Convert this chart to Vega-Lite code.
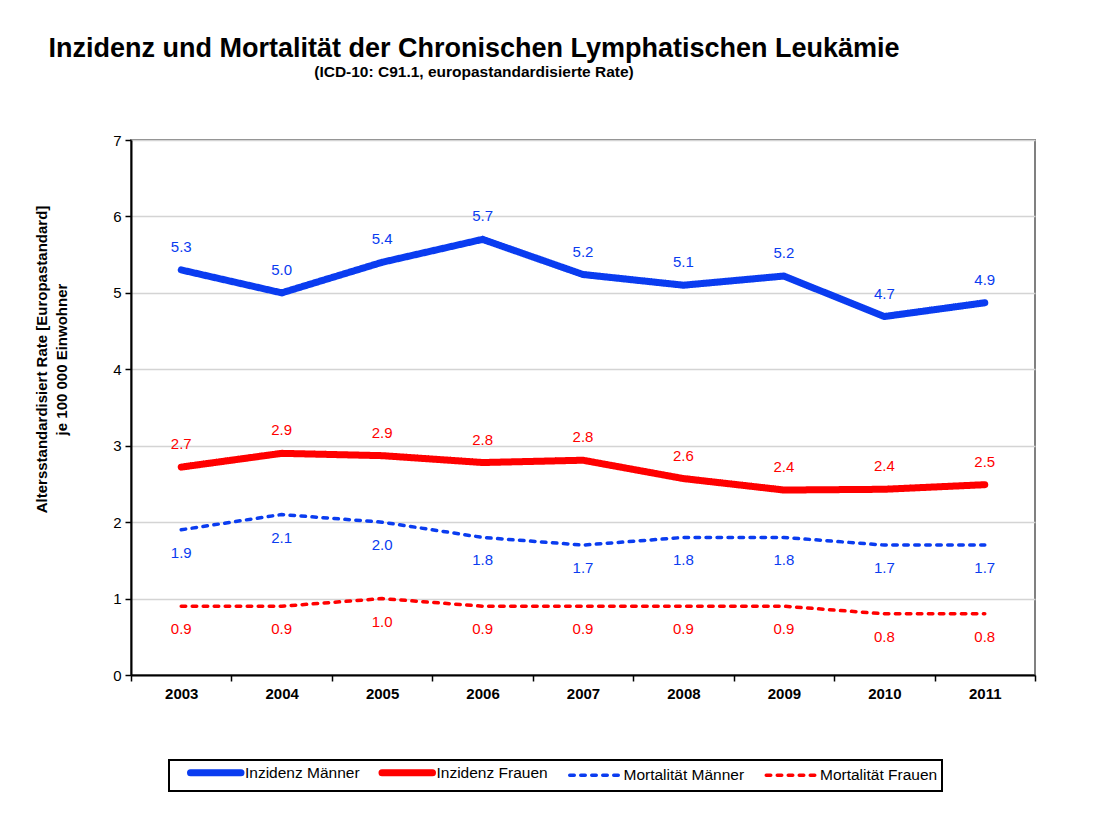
{
  "$schema": "https://vega.github.io/schema/vega-lite/v6.json",
  "autosize": "none",
  "width": 904,
  "height": 535,
  "padding": {"left": 131, "top": 140, "right": 64, "bottom": 144},
  "background": "white",
  "title": {
    "text": "Inzidenz und Mortalität der Chronischen Lymphatischen Leukämie",
    "subtitle": "(ICD-10: C91.1, europastandardisierte Rate)",
    "anchor": "middle",
    "dx": -109,
    "offset": 52,
    "font": "Liberation Sans",
    "fontSize": 27,
    "fontWeight": "bold",
    "color": "black",
    "subtitleFont": "Liberation Sans",
    "subtitleFontSize": 15.5,
    "subtitleFontWeight": "bold",
    "subtitleColor": "black",
    "subtitlePadding": 2
  },
  "config": {
    "font": "Liberation Sans",
    "view": {"stroke": "#808080", "strokeWidth": 2}
  },
  "data": {
    "values": [
      {"series": "Inzidenz Männer", "year": "2003", "value": 5.3},
      {"series": "Inzidenz Männer", "year": "2004", "value": 5.0},
      {"series": "Inzidenz Männer", "year": "2005", "value": 5.4},
      {"series": "Inzidenz Männer", "year": "2006", "value": 5.7},
      {"series": "Inzidenz Männer", "year": "2007", "value": 5.24},
      {"series": "Inzidenz Männer", "year": "2008", "value": 5.1},
      {"series": "Inzidenz Männer", "year": "2009", "value": 5.22},
      {"series": "Inzidenz Männer", "year": "2010", "value": 4.69},
      {"series": "Inzidenz Männer", "year": "2011", "value": 4.87},
      {"series": "Inzidenz Frauen", "year": "2003", "value": 2.72},
      {"series": "Inzidenz Frauen", "year": "2004", "value": 2.9},
      {"series": "Inzidenz Frauen", "year": "2005", "value": 2.87},
      {"series": "Inzidenz Frauen", "year": "2006", "value": 2.78},
      {"series": "Inzidenz Frauen", "year": "2007", "value": 2.81},
      {"series": "Inzidenz Frauen", "year": "2008", "value": 2.57},
      {"series": "Inzidenz Frauen", "year": "2009", "value": 2.42},
      {"series": "Inzidenz Frauen", "year": "2010", "value": 2.43},
      {"series": "Inzidenz Frauen", "year": "2011", "value": 2.49},
      {"series": "Mortalität Männer", "year": "2003", "value": 1.9},
      {"series": "Mortalität Männer", "year": "2004", "value": 2.1},
      {"series": "Mortalität Männer", "year": "2005", "value": 2.0},
      {"series": "Mortalität Männer", "year": "2006", "value": 1.8},
      {"series": "Mortalität Männer", "year": "2007", "value": 1.7},
      {"series": "Mortalität Männer", "year": "2008", "value": 1.8},
      {"series": "Mortalität Männer", "year": "2009", "value": 1.8},
      {"series": "Mortalität Männer", "year": "2010", "value": 1.7},
      {"series": "Mortalität Männer", "year": "2011", "value": 1.7},
      {"series": "Mortalität Frauen", "year": "2003", "value": 0.9},
      {"series": "Mortalität Frauen", "year": "2004", "value": 0.9},
      {"series": "Mortalität Frauen", "year": "2005", "value": 1.0},
      {"series": "Mortalität Frauen", "year": "2006", "value": 0.9},
      {"series": "Mortalität Frauen", "year": "2007", "value": 0.9},
      {"series": "Mortalität Frauen", "year": "2008", "value": 0.9},
      {"series": "Mortalität Frauen", "year": "2009", "value": 0.9},
      {"series": "Mortalität Frauen", "year": "2010", "value": 0.8},
      {"series": "Mortalität Frauen", "year": "2011", "value": 0.8}
    ]
  },
  "encoding": {
    "x": {
      "field": "year",
      "type": "ordinal",
      "scale": {"type": "band", "paddingInner": 0, "paddingOuter": 0},
      "axis": {
        "title": null,
        "labelAngle": 0,
        "labelFontSize": 15,
        "labelFontWeight": "bold",
        "labelColor": "black",
        "labelPadding": 5,
        "domainColor": "black",
        "domainWidth": 2,
        "tickColor": "black",
        "tickWidth": 1.5,
        "tickSize": 6,
        "tickBand": "extent",
        "grid": false
      }
    },
    "y": {
      "field": "value",
      "type": "quantitative",
      "scale": {"domain": [0, 7], "nice": false},
      "axis": {
        "title": ["Altersstandardisiert Rate [Europastandard]", "je 100 000 Einwohner"],
        "titleFontSize": 15,
        "titleFontWeight": "bold",
        "titleColor": "black",
        "titleAngle": -90,
        "titleAlign": "center",
        "titleBaseline": "middle",
        "titleX": -90,
        "titleY": 219,
        "titleLineHeight": 20,
        "values": [0, 1, 2, 3, 4, 5, 6, 7],
        "labelFontSize": 15,
        "labelColor": "black",
        "labelPadding": 4,
        "domainColor": "black",
        "domainWidth": 2,
        "tickColor": "black",
        "tickWidth": 1.5,
        "tickSize": 6,
        "grid": true,
        "gridColor": "#d4d4d4",
        "gridWidth": 1.5
      }
    }
  },
  "layer": [
    {
      "mark": {"type": "line", "strokeCap": "round", "strokeJoin": "round"},
      "encoding": {
        "color": {
          "field": "series",
          "type": "nominal",
          "sort": ["Inzidenz Männer", "Inzidenz Frauen", "Mortalität Männer", "Mortalität Frauen"],
          "scale": {
            "domain": ["Inzidenz Männer", "Inzidenz Frauen", "Mortalität Männer", "Mortalität Frauen"],
            "range": ["#0a3cf0", "#ff0000", "#0a3cf0", "#ff0000"]
          },
          "legend": {
            "title": null,
            "orient": "none",
            "legendX": 38,
            "legendY": 620,
            "direction": "horizontal",
            "strokeColor": "black",
            "padding": 4,
            "symbolType": "M1.8,0H11.9",
            "symbolSize": 100,
            "labelFontSize": 15.5,
            "labelColor": "black",
            "labelOffset": 55,
            "columnPadding": 4.5,
            "labelLimit": 300,
            "encode": {
              "legend": {"update": {"strokeWidth": {"value": 2}}},
              "symbols": {"update": {"strokeCap": {"value": "round"}}}
            }
          }
        },
        "strokeDash": {
          "field": "series",
          "type": "nominal",
          "sort": ["Inzidenz Männer", "Inzidenz Frauen", "Mortalität Männer", "Mortalität Frauen"],
          "scale": {
            "domain": ["Inzidenz Männer", "Inzidenz Frauen", "Mortalität Männer", "Mortalität Frauen"],
            "range": [[1, 0], [1, 0], [4.5, 6.5], [4.5, 6.5]]
          },
          "legend": null
        },
        "strokeWidth": {
          "field": "series",
          "type": "nominal",
          "sort": ["Inzidenz Männer", "Inzidenz Frauen", "Mortalität Männer", "Mortalität Frauen"],
          "scale": {
            "type": "ordinal",
            "domain": ["Inzidenz Männer", "Inzidenz Frauen", "Mortalität Männer", "Mortalität Frauen"],
            "range": [7, 7, 3.5, 3.5]
          },
          "legend": null
        }
      }
    },
    {
      "transform": [{"filter": "indexof(datum.series, 'Inzidenz') == 0"}],
      "mark": {"type": "text", "dy": -23, "fontSize": 15},
      "encoding": {
        "text": {"field": "value", "type": "quantitative", "format": ".1f"},
        "color": {"field": "series", "type": "nominal", "legend": null}
      }
    },
    {
      "transform": [{"filter": "indexof(datum.series, 'Mortalität') == 0"}],
      "mark": {"type": "text", "dy": 23, "fontSize": 15},
      "encoding": {
        "text": {"field": "value", "type": "quantitative", "format": ".1f"},
        "color": {"field": "series", "type": "nominal", "legend": null}
      }
    }
  ]
}
